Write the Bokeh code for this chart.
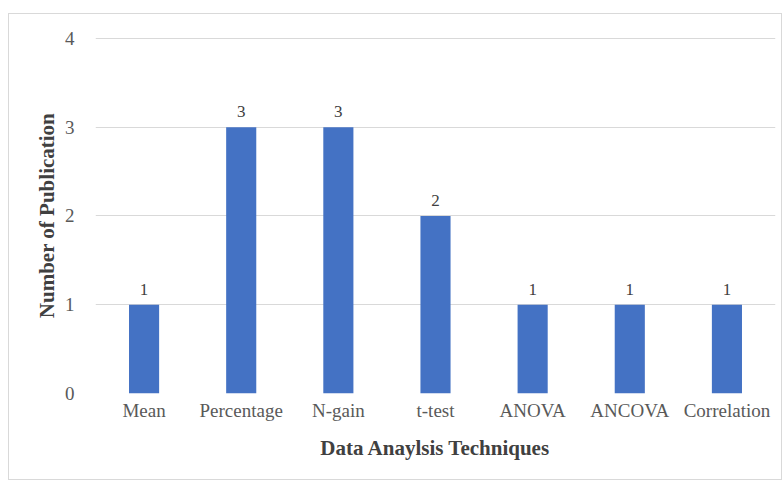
from bokeh.plotting import figure
from bokeh.models import ColumnDataSource, LabelSet, Range1d, FixedTicker
from bokeh.embed import file_html
from bokeh.resources import INLINE

categories = ["Mean", "Percentage", "N-gain", "t-test", "ANOVA", "ANCOVA", "Correlation"]
counts = [1, 3, 3, 2, 1, 1, 1]
y_ticks = [0, 1, 2, 3, 4]

src = ColumnDataSource(dict(cat=categories, val=counts, lab=[str(v) for v in counts]))

FONT = "Liberation Serif"
p = figure(x_range=categories, y_range=Range1d(0, 4.01), width=774, height=467,
           output_backend="svg", toolbar_location=None,
           min_border_left=86, min_border_right=8, min_border_top=23, min_border_bottom=88)
p.margin = (13, 0, 0, 8)
p.styles = {"border": "1px solid #d9d9d9", "box-sizing": "border-box"}

p.vbar(x="cat", top="val", width=0.31, source=src, color="#4472C4", line_color=None)

labels = LabelSet(x="cat", y="val", text="lab", source=src, y_offset=10,
                  text_align="center", text_baseline="bottom",
                  text_font=FONT, text_font_size="17px", text_color="#404040")
p.add_layout(labels)

p.outline_line_color = None
p.xgrid.grid_line_color = None
p.ygrid.grid_line_color = "#d9d9d9"
p.ygrid.grid_line_width = 1
p.yaxis.ticker = FixedTicker(ticks=y_ticks)

for ax in (p.xaxis[0], p.yaxis[0]):
    ax.axis_line_color = None
    ax.major_tick_line_color = None
    ax.minor_tick_line_color = None
    ax.major_label_text_font = FONT
    ax.major_label_text_font_size = "19px"
    ax.major_label_text_color = "#595959"
    ax.axis_label_text_font = FONT
    ax.axis_label_text_font_size = "21px"
    ax.axis_label_text_font_style = "bold"
    ax.axis_label_text_color = "#404040"

p.xaxis.axis_label = "Data Anaylsis Techniques"
p.yaxis.axis_label = "Number of Publication"
p.xaxis.major_label_standoff = 0
p.xaxis.axis_label_standoff = 12
p.yaxis.major_label_standoff = 15
p.yaxis.axis_label_standoff = 3

open("out.html", "w").write(file_html(p, INLINE))
